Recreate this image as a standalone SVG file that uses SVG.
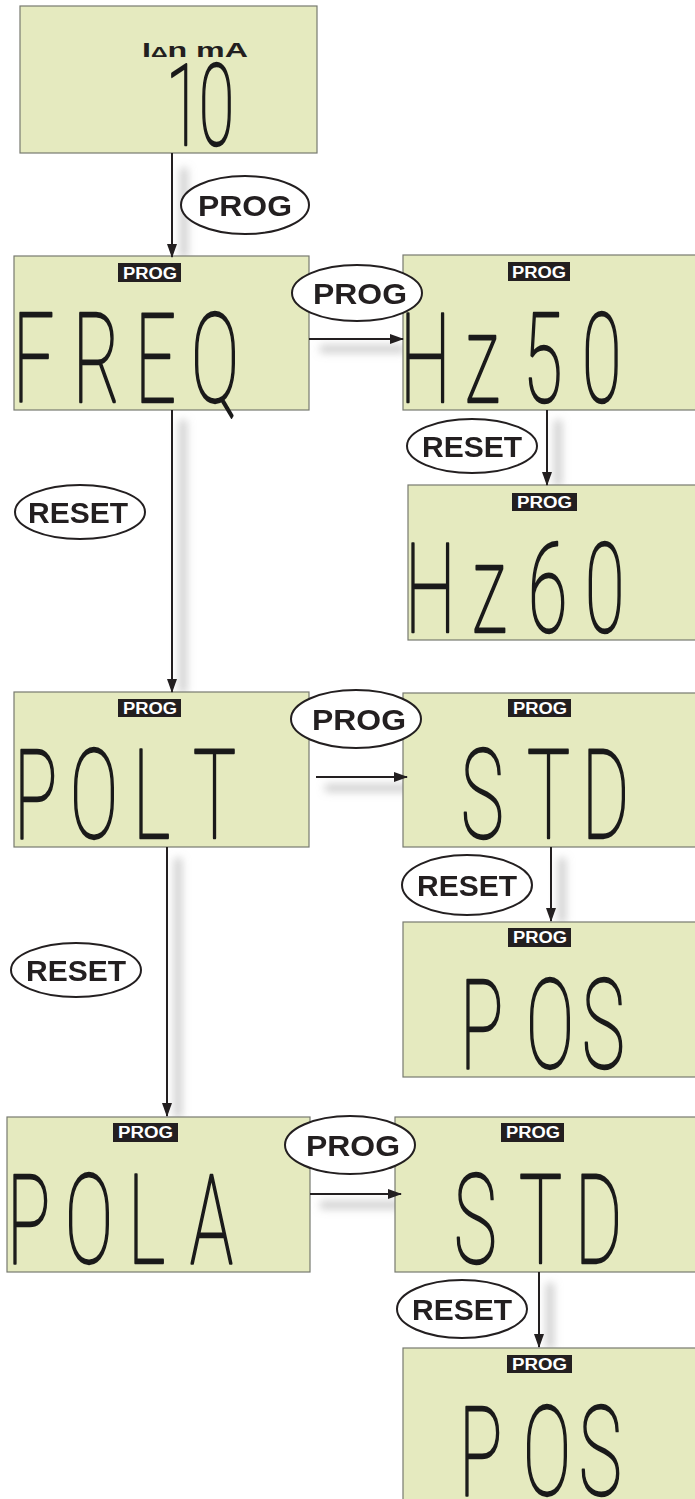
<svg xmlns="http://www.w3.org/2000/svg" width="695" height="1499" viewBox="0 0 695 1499">
<style>
.box{fill:#e5eabf;stroke:#777a70;stroke-width:1.2}
.tag{fill:#231f20}
.tagt{fill:#ffffff;font-family:"Liberation Sans",Arial,sans-serif;font-weight:bold;font-size:16px}
.lcd{fill:#1a1a1a;stroke:#1a1a1a;stroke-width:1.4;stroke-linejoin:round;font-family:Roboto,"Liberation Sans",sans-serif;font-weight:100;font-size:72px}
.ell{fill:#ffffff;stroke:#231f20;stroke-width:2}
.lbl{fill:#231f20;font-family:"Liberation Sans",Arial,sans-serif;font-weight:bold;font-size:30px}
.ln{stroke:#231f20;stroke-width:2;fill:none;marker-end:url(#ah)}
.shd{stroke:#9a9a9a;stroke-width:7;fill:none;opacity:0.55}
</style>
<defs>
<marker id="ah" viewBox="0 0 14 10" refX="13" refY="5" markerWidth="14" markerHeight="10" markerUnits="userSpaceOnUse" orient="auto">
<path d="M0,0 L14,5 L0,10 Z" fill="#231f20"/>
</marker>
<filter id="blur" x="-100%" y="-20%" width="300%" height="140%"><feGaussianBlur stdDeviation="4"/></filter>
</defs>
<rect width="695" height="1499" fill="#ffffff"/>

<g id="shadows" filter="url(#blur)">
<line class="shd" x1="184" y1="168" x2="184" y2="258"/>
<line class="shd" x1="320" y1="349" x2="405" y2="349"/>
<line class="shd" x1="558" y1="420" x2="558" y2="486"/>
<line class="shd" x1="183" y1="420" x2="183" y2="693"/>
<line class="shd" x1="325" y1="788" x2="410" y2="788"/>
<line class="shd" x1="562" y1="858" x2="562" y2="923"/>
<line class="shd" x1="178" y1="858" x2="178" y2="1118"/>
<line class="shd" x1="320" y1="1205" x2="400" y2="1205"/>
<line class="shd" x1="550" y1="1283" x2="550" y2="1349"/>
</g>

<g id="n0">
<rect class="box" x="20" y="6" width="297" height="147"/>
<text x="142" y="57" font-family="'Liberation Sans',Arial,sans-serif" font-weight="bold" font-size="21" fill="#231f20" textLength="106" lengthAdjust="spacingAndGlyphs">I<tspan font-size="15">Δ</tspan>n mA</text>
<text class="lcd" style="font-size:64px" transform="translate(0,145) scale(1,1.78)" x="166 199" y="0">10</text>
</g>

<g id="n1">
<rect class="box" x="14" y="256" width="295" height="154"/>
<rect class="tag" x="118" y="263" width="63" height="19"/>
<text class="tagt" x="123" y="278.5" textLength="54" lengthAdjust="spacingAndGlyphs">PROG</text>
<text class="lcd" transform="translate(0,402) scale(1,1.72)" x="13 73 135 191" y="0">FREQ</text>
</g>

<g id="n2">
<rect class="box" x="403" y="255" width="300" height="155"/>
<rect class="tag" x="508" y="262" width="62" height="19"/>
<text class="tagt" x="512" y="277.5" textLength="54" lengthAdjust="spacingAndGlyphs">PROG</text>
<text class="lcd" transform="translate(0,402) scale(1,1.72)" x="400 465 523 582" y="0">Hz50</text>
</g>

<g id="n3">
<rect class="box" x="408" y="485" width="300" height="155"/>
<rect class="tag" x="512" y="493" width="65" height="18"/>
<text class="tagt" x="517" y="507.5" textLength="55" lengthAdjust="spacingAndGlyphs">PROG</text>
<text class="lcd" transform="translate(0,632) scale(1,1.72)" x="405 472 528 585" y="0">Hz60</text>
</g>

<g id="n4">
<rect class="box" x="14" y="692" width="295" height="155"/>
<rect class="tag" x="118" y="699" width="63" height="18"/>
<text class="tagt" x="123" y="713.5" textLength="54" lengthAdjust="spacingAndGlyphs">PROG</text>
<text class="lcd" transform="translate(0,838) scale(1,1.72)" x="14 70 133 193" y="0">POLT</text>
</g>

<g id="n5">
<rect class="box" x="403" y="693" width="300" height="154"/>
<rect class="tag" x="508" y="699" width="63" height="18"/>
<text class="tagt" x="513" y="713.5" textLength="54" lengthAdjust="spacingAndGlyphs">PROG</text>
<text class="lcd" transform="translate(0,838) scale(1,1.72)" x="461 527 582" y="0">STD</text>
</g>

<g id="n6">
<rect class="box" x="403" y="922" width="300" height="155"/>
<rect class="tag" x="508" y="928" width="63" height="19"/>
<text class="tagt" x="513" y="943" textLength="54" lengthAdjust="spacingAndGlyphs">PROG</text>
<text class="lcd" transform="translate(0,1068) scale(1,1.72)" x="460 526 582" y="0">POS</text>
</g>

<g id="n7">
<rect class="box" x="7" y="1117" width="303" height="155"/>
<rect class="tag" x="113" y="1123" width="65" height="19"/>
<text class="tagt" x="118" y="1138" textLength="55" lengthAdjust="spacingAndGlyphs">PROG</text>
<text class="lcd" transform="translate(0,1263) scale(1,1.72)" x="7 65 128 190" y="0">POLA</text>
</g>

<g id="n8">
<rect class="box" x="395" y="1117" width="310" height="155"/>
<rect class="tag" x="501" y="1123" width="63" height="19"/>
<text class="tagt" x="506" y="1138" textLength="54" lengthAdjust="spacingAndGlyphs">PROG</text>
<text class="lcd" transform="translate(0,1263) scale(1,1.72)" x="454 519 575" y="0">STD</text>
</g>

<g id="n9">
<rect class="box" x="403" y="1348" width="300" height="160"/>
<rect class="tag" x="507" y="1355" width="65" height="18"/>
<text class="tagt" x="512" y="1369.5" textLength="55" lengthAdjust="spacingAndGlyphs">PROG</text>
<text class="lcd" transform="translate(0,1495) scale(1,1.72)" x="459 523 579" y="0">POS</text>
</g>

<g id="connectors">
<line class="ln" x1="172" y1="153" x2="172" y2="257"/>
<line class="ln" x1="309" y1="339" x2="403" y2="339"/>
<line class="ln" x1="547" y1="410" x2="547" y2="485"/>
<line class="ln" x1="172" y1="410" x2="172" y2="692"/>
<line class="ln" x1="316" y1="777" x2="407" y2="777"/>
<line class="ln" x1="551" y1="847" x2="551" y2="921"/>
<line class="ln" x1="167" y1="847" x2="167" y2="1116"/>
<line class="ln" x1="310" y1="1194" x2="401" y2="1194"/>
<line class="ln" x1="539" y1="1272" x2="539" y2="1347"/>
</g>

<g id="l1"><ellipse class="ell" cx="245" cy="205" rx="64" ry="29"/><text class="lbl" x="245" y="216" text-anchor="middle" textLength="94" lengthAdjust="spacingAndGlyphs">PROG</text></g>
<g id="l2"><ellipse class="ell" cx="357" cy="293" rx="65" ry="28"/><text class="lbl" x="360" y="304" text-anchor="middle" textLength="94" lengthAdjust="spacingAndGlyphs">PROG</text></g>
<g id="l3"><ellipse class="ell" cx="472" cy="446" rx="65" ry="27"/><text class="lbl" x="472" y="457" text-anchor="middle">RESET</text></g>
<g id="l4"><ellipse class="ell" cx="80" cy="512" rx="65" ry="27"/><text class="lbl" x="78" y="523" text-anchor="middle">RESET</text></g>
<g id="l5"><ellipse class="ell" cx="356" cy="719" rx="65" ry="29"/><text class="lbl" x="359" y="730" text-anchor="middle" textLength="94" lengthAdjust="spacingAndGlyphs">PROG</text></g>
<g id="l6"><ellipse class="ell" cx="467" cy="885" rx="65" ry="30"/><text class="lbl" x="467" y="896" text-anchor="middle">RESET</text></g>
<g id="l7"><ellipse class="ell" cx="76" cy="970" rx="65" ry="27"/><text class="lbl" x="76" y="981" text-anchor="middle">RESET</text></g>
<g id="l8"><ellipse class="ell" cx="350" cy="1145" rx="65" ry="29"/><text class="lbl" x="353" y="1156" text-anchor="middle" textLength="94" lengthAdjust="spacingAndGlyphs">PROG</text></g>
<g id="l9"><ellipse class="ell" cx="462" cy="1309" rx="65" ry="29"/><text class="lbl" x="462" y="1320" text-anchor="middle">RESET</text></g>
</svg>
